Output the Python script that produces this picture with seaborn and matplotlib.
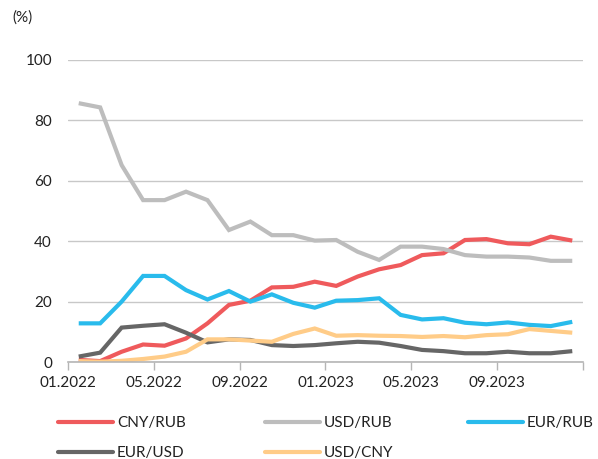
"""Currency-pair shares of trading, monthly 01.2022 - 12.2023."""
import pandas as pd
import matplotlib
matplotlib.use("Agg")
import matplotlib.pyplot as plt
import seaborn as sns

months = pd.date_range("2022-01-01", periods=24, freq="MS").strftime("%m.%Y").tolist()
tick_labels = ["01.2022", "05.2022", "09.2022", "01.2023", "05.2023", "09.2023", ""]

cny_rub = [0.7, 0.3, 3.4, 5.8, 5.4, 7.8, 12.8, 18.9, 20.3, 24.7, 24.9, 26.6,
           25.2, 28.3, 30.7, 32.1, 35.4, 36.0, 40.4, 40.7, 39.3, 39.0, 41.5, 40.2]
usd_rub = [85.7, 84.3, 65.2, 53.6, 53.6, 56.4, 53.6, 43.7, 46.5, 42.0, 42.0, 40.2,
           40.4, 36.5, 33.8, 38.2, 38.2, 37.4, 35.4, 34.9, 34.9, 34.6, 33.5, 33.5]
eur_rub = [12.8, 12.8, 20.0, 28.5, 28.5, 23.8, 20.7, 23.5, 20.0, 22.4, 19.6, 18.0,
           20.3, 20.5, 21.1, 15.6, 14.1, 14.5, 13.0, 12.5, 13.1, 12.3, 11.9, 13.3]
eur_usd = [1.8, 3.1, 11.4, 12.0, 12.5, 9.7, 6.5, 7.5, 7.3, 5.6, 5.3, 5.6,
           6.2, 6.7, 6.4, 5.3, 4.0, 3.6, 2.9, 2.9, 3.4, 2.9, 2.9, 3.6]
usd_cny = [0.3, 0.1, 0.4, 1.0, 1.8, 3.4, 7.5, 7.5, 7.1, 6.7, 9.3, 11.1,
           8.7, 8.9, 8.7, 8.6, 8.3, 8.6, 8.2, 8.9, 9.2, 10.9, 10.3, 9.7]

series = {
    "CNY/RUB": cny_rub,
    "USD/RUB": usd_rub,
    "EUR/RUB": eur_rub,
    "EUR/USD": eur_usd,
    "USD/CNY": usd_cny,
}
palette = {
    "CNY/RUB": "#EF5A5C",
    "USD/RUB": "#BDBDBD",
    "EUR/RUB": "#29BBEC",
    "EUR/USD": "#666666",
    "USD/CNY": "#FFCC88",
}
# legend columns as in the source: (x of swatch start, entries top to bottom)
legend_cols = [(0.097, ["CNY/RUB", "EUR/USD"]),
               (0.443, ["USD/RUB", "USD/CNY"]),
               (0.782, ["EUR/RUB"])]


def main():
    sns.set_theme(style="white")
    plt.rcParams["font.family"] = ["Lato", "DejaVu Sans"]
    txt = "#222222"

    rows = []
    for name, vals in series.items():
        for i, v in enumerate(vals):
            rows.append({"pos": i + 0.5, "month": months[i], "pair": name, "share": v})
    df = pd.DataFrame(rows)

    fig = plt.figure(figsize=(5.98, 4.59), dpi=100)
    ax = fig.add_axes([0.1137, 0.2113, 0.8612, 0.658])

    sns.lineplot(data=df, x="pos", y="share", hue="pair", palette=palette,
                 hue_order=list(series), lw=3.0, ax=ax, legend=False)
    for ln in ax.lines:
        ln.set_solid_capstyle("butt")
        ln.set_solid_joinstyle("miter")

    ax.set_xlim(0, 24)
    ax.set_ylim(0, 100)
    ax.set_xticks(range(0, 25, 4))
    ax.set_xticklabels(tick_labels)
    ax.set_yticks(range(0, 101, 20))
    ax.yaxis.grid(True, color="#C8C8C8", lw=1)
    ax.xaxis.grid(False)
    for s in ["left", "right", "top"]:
        ax.spines[s].set_visible(False)
    ax.spines["bottom"].set_color("#B5B5B5")
    ax.spines["bottom"].set_linewidth(1.2)
    ax.tick_params(axis="x", bottom=True, length=6, width=1, color="#B5B5B5",
                   labelsize=11, labelcolor=txt, pad=4)
    ax.tick_params(axis="y", left=False, length=0, labelsize=11,
                   labelcolor=txt, pad=11.5)
    ax.set_xlabel("")
    ax.set_ylabel("")

    fig.text(0.02, 0.962, "(%)", fontsize=11, color=txt, va="center", ha="left")

    for x0, names in legend_cols:
        handles = [plt.Line2D([], [], color=palette[k], lw=3, solid_capstyle="round")
                   for k in names]
        fig.legend(handles, names, loc="upper left", bbox_to_anchor=(x0, 0.094),
                   frameon=False, fontsize=11, handlelength=3.6,
                   handletextpad=0.25, labelspacing=1.08, labelcolor=txt,
                   borderaxespad=0, borderpad=0)

    fig.savefig("out.png", dpi=100)
    plt.close(fig)


if __name__ == "__main__":
    main()
